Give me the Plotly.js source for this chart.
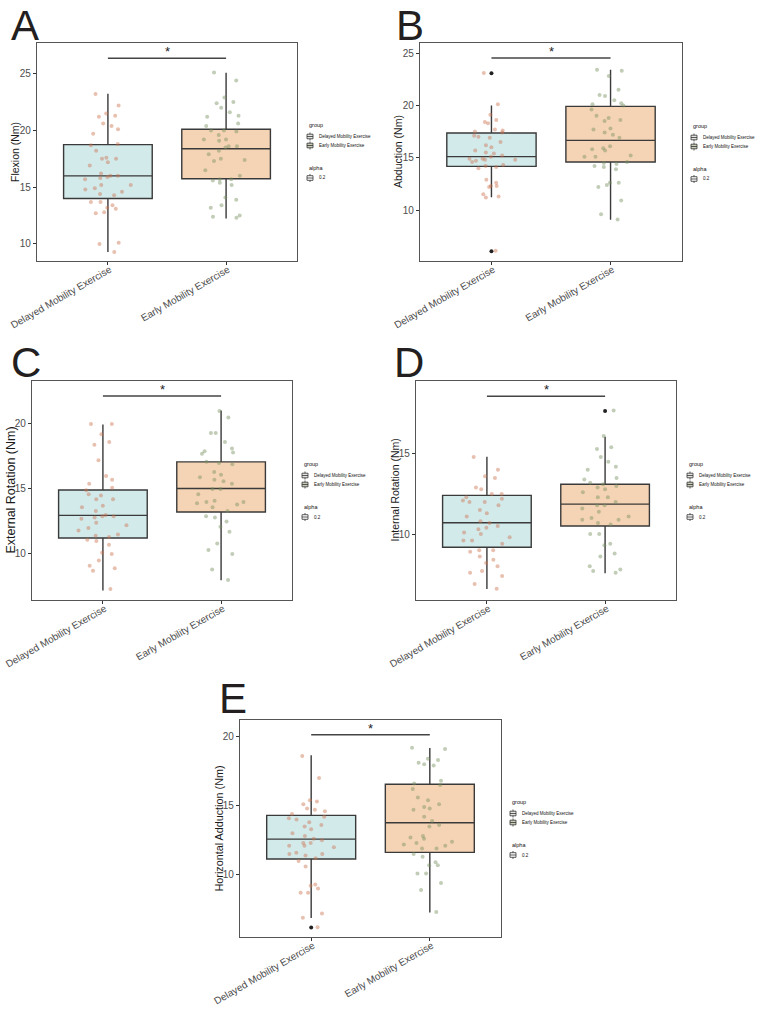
<!DOCTYPE html>
<html><head><meta charset="utf-8">
<script src="https://cdn.plot.ly/plotly-3.0.1.min.js"></script>
<style>html,body{margin:0;padding:0;background:#fff}#chart{width:762px;height:1011px}</style>
</head><body><div id="chart"></div>
<script>
// ---------- data ----------
const groups = ['Delayed Mobility Exercise', 'Early Mobility Exercise'];
const panelLetters = ['A', 'B', 'C', 'D', 'E'];
const yTitles = ['Flexion (Nm)', 'Abduction (Nm)', 'External Rotation (Nm)', 'Internal Rotation (Nm)', 'Horizontal Adduction (Nm)'];
const legendLabels = ['Delayed Mobility Exercise', 'Early Mobility Exercise'];
const alphaLabel = '0.2';

// box statistics [Delayed, Early]
const flexionQ1 = [14.0, 15.75], flexionMed = [16.0, 18.38], flexionQ3 = [18.75, 20.1], flexionLo = [9.3, 12.24], flexionHi = [23.24, 25.09];
const abductionQ1 = [14.17, 14.59], abductionMed = [15.1, 16.66], abductionQ3 = [17.36, 19.9], abductionLo = [11.21, 9.08], abductionHi = [20.0, 23.4];
const extRotQ1 = [11.23, 13.23], extRotMed = [12.97, 15.03], extRotQ3 = [14.92, 17.08], extRotLo = [7.2, 7.97], extRotHi = [19.95, 21.03];
const intRotQ1 = [9.18, 10.51], intRotMed = [10.71, 11.87], intRotQ3 = [12.41, 13.1], intRotLo = [6.59, 7.57], intRotHi = [14.81, 16.06];
const horAddQ1 = [11.14, 11.62], horAddMed = [12.58, 13.77], horAddQ3 = [14.3, 16.55], horAddLo = [6.88, 7.27], horAddHi = [18.65, 19.18];

// outliers [Delayed, Early]
const flexionOut = [[], []];
const abductionOut = [[23.06, 6.05], []];
const extRotOut = [[], []];
const intRotOut = [[], [17.67]];
const horAddOut = [[6.18], []];

// significance bracket heights
const sigHeights = [26.35, 24.52, 22.15, 18.58, 20.14];

// individual observations
const flexionDelayed = [23.2,22.2,21.5,21.3,21.2,20.6,20.4,20.1,19.7,18.8,18.7,18.2,17.6,17.5,17.5,17.2,16.9,16.2,16.0,16.0,15.9,15.8,15.7,15.2,15.2,14.9,14.8,14.6,14.4,14.3,13.7,13.7,13.4,13.2,13.1,12.8,12.7,10.1,10.0,9.3];
const flexionEarly = [25.1,24.4,22.9,22.5,22.4,22.0,21.6,21.3,21.2,20.6,20.4,20.0,20.0,19.9,19.6,19.2,19.2,19.1,18.6,18.6,18.5,18.2,17.9,17.5,17.4,17.3,16.5,16.0,15.7,15.7,15.6,15.4,15.2,14.1,13.9,13.4,13.2,12.5,12.4,12.3];
const abductionDelayed = [23.1,20.1,19.1,18.6,18.4,18.3,17.7,17.6,17.5,17.4,17.1,17.0,16.9,16.5,16.2,16.0,15.7,15.5,15.4,15.2,15.1,14.9,14.9,14.8,14.8,14.7,14.6,14.3,14.2,14.1,14.0,12.9,12.6,12.3,12.3,12.2,11.5,11.3,11.2,6.1];
const abductionEarly = [23.4,23.3,22.8,21.5,21.0,20.9,20.5,20.2,20.1,20.0,19.6,19.0,18.8,18.6,18.5,17.8,17.7,17.4,17.2,16.9,16.1,15.9,15.8,15.7,15.2,15.1,15.1,14.6,14.5,14.4,14.2,14.1,13.9,12.6,12.6,12.4,12.2,10.9,9.6,9.1];
const extRotDelayed = [20.0,20.0,19.2,18.6,18.4,17.2,16.0,15.7,15.4,15.1,14.9,14.6,14.5,14.2,14.2,13.7,13.6,13.3,13.0,12.9,12.9,12.8,12.7,12.4,12.2,12.0,11.8,11.5,11.4,11.3,11.1,11.0,10.7,10.1,10.0,9.5,9.1,8.9,8.7,7.3];
const extRotEarly = [21.0,20.5,19.3,19.3,18.6,18.1,17.9,17.8,17.7,17.1,17.0,16.9,16.3,16.1,15.9,15.7,15.6,15.4,15.0,15.0,14.6,14.1,14.0,14.0,13.9,13.8,13.6,13.3,12.9,12.8,12.5,12.1,11.7,10.8,10.3,10.0,8.8,8.0];
const intRotDelayed = [14.8,14.0,13.6,13.5,12.9,12.8,12.5,12.5,12.3,12.2,12.1,12.0,12.0,11.8,11.5,11.3,11.1,10.8,10.7,10.5,10.4,10.3,10.1,10.0,9.8,9.6,9.6,9.4,9.0,9.0,8.9,8.6,8.4,8.2,8.0,7.7,7.6,7.4,6.9,6.6];
const intRotEarly = [17.7,16.1,15.4,15.3,14.8,14.5,14.2,14.0,13.5,13.4,13.2,13.1,13.0,12.9,12.8,12.6,12.3,12.3,12.0,11.8,11.8,11.6,11.4,11.1,11.0,10.9,10.9,10.7,10.6,10.0,10.0,9.4,9.3,8.8,8.6,8.0,7.8,7.7,7.6];
const horAddDelayed = [18.6,17.0,15.4,15.3,15.1,14.8,14.7,14.6,14.4,14.2,14.1,14.0,13.8,13.6,13.5,13.3,13.0,12.8,12.6,12.5,12.3,12.3,12.1,12.1,12.0,11.6,11.5,11.5,11.4,11.2,11.0,10.6,9.3,9.2,9.0,8.7,8.7,7.2,6.9,6.2];
const horAddEarly = [19.2,19.1,18.4,18.3,18.1,18.0,17.9,16.8,16.6,16.5,16.2,15.6,15.4,15.1,14.9,14.8,14.7,14.2,13.9,13.6,13.5,12.8,12.7,12.6,12.4,12.3,12.2,12.1,11.9,11.9,11.5,11.3,10.9,10.7,10.7,10.1,10.1,9.4,8.9,7.3];

// ---------- assembly ----------
const W = 762, H = 1011;
const panels = [
  {q1: flexionQ1, med: flexionMed, q3: flexionQ3, lo: flexionLo, hi: flexionHi, pts: [flexionDelayed, flexionEarly], out: flexionOut,
   box: [37, 297, 43, 261], range: [8.5, 27.7], letter: [9, 0], ytx: 15, ytSize: 10.5, leg: [307, 125]},
  {q1: abductionQ1, med: abductionMed, q3: abductionQ3, lo: abductionLo, hi: abductionHi, pts: [abductionDelayed, abductionEarly], out: abductionOut,
   box: [420, 682, 43, 261], range: [5.13, 25.96], letter: [394, 0], ytx: 398, ytSize: 10.5, leg: [691, 126]},
  {q1: extRotQ1, med: extRotMed, q3: extRotQ3, lo: extRotLo, hi: extRotHi, pts: [extRotDelayed, extRotEarly], out: extRotOut,
   box: [32, 292, 381, 600], range: [6.46, 23.3], letter: [9, 337], ytx: 10, ytSize: 12.5, leg: [302, 464]},
  {q1: intRotQ1, med: intRotMed, q3: intRotQ3, lo: intRotLo, hi: intRotHi, pts: [intRotDelayed, intRotEarly], out: intRotOut,
   box: [416, 676, 381, 600], range: [5.9, 19.53], letter: [392, 337], ytx: 394, ytSize: 10.5, leg: [687, 464]},
  {q1: horAddQ1, med: horAddMed, q3: horAddQ3, lo: horAddLo, hi: horAddHi, pts: [horAddDelayed, horAddEarly], out: horAddOut,
   box: [240, 501, 720, 937], range: [5.5, 21.2], letter: [217, 673], ytx: 218, ytSize: 10.8, leg: [510, 802]}
];

const boxFill = ['#d3eaeb', '#f5d4b5'];
const ptColor = ['rgba(205,115,80,0.45)', 'rgba(120,145,95,0.45)'];
const FONT = 'Liberation Sans, Arial, sans-serif';
const px = v => v / W, py = v => 1 - v / H;

const traces = [], shapes = [], annotations = [];
const layout = {
  width: W, height: H, margin: {l: 0, r: 0, t: 0, b: 0},
  paper_bgcolor: '#fff', plot_bgcolor: '#fff', showlegend: false, boxmode: 'overlay',
  font: {family: FONT}
};

panels.forEach((p, i) => {
  const n = i === 0 ? '' : String(i + 1);
  const xa = 'x' + n, ya = 'y' + n;
  layout['xaxis' + n] = {
    domain: [px(p.box[0]), px(p.box[1])], anchor: ya, type: 'category',
    categoryorder: 'array', categoryarray: groups, range: [-0.6, 1.6],
    showline: true, mirror: true, linecolor: '#555', linewidth: 1.2,
    ticks: 'outside', ticklen: 3, tickcolor: '#333', tickwidth: 1,
    tickangle: -30, ticklabelstandoff: -5, ticklabelshift: 2,
    tickfont: {size: 10, color: '#4d4d4d', family: FONT},
    showgrid: false, zeroline: false, fixedrange: true
  };
  layout['yaxis' + n] = {
    domain: [py(p.box[3]), py(p.box[2])], anchor: xa, range: p.range, dtick: 5,
    showline: true, mirror: true, linecolor: '#555', linewidth: 1.2,
    ticks: 'outside', ticklen: 3, tickcolor: '#333', tickwidth: 1,
    tickfont: {size: 10, color: '#4d4d4d', family: FONT},
    showgrid: false, zeroline: false, fixedrange: true
  };
  groups.forEach((g, k) => {
    traces.push({
      type: 'box', xaxis: xa, yaxis: ya, x: [g],
      q1: [p.q1[k]], median: [p.med[k]], q3: [p.q3[k]], lowerfence: [p.lo[k]], upperfence: [p.hi[k]],
      width: 0.75, whiskerwidth: 0, boxpoints: false,
      fillcolor: boxFill[k], line: {color: '#3a3a3a', width: 1.4}, hoverinfo: 'skip'
    });
    traces.push({
      type: 'box', xaxis: xa, yaxis: ya, y: p.pts[k], x0: g, name: g,
      width: 0.75, boxpoints: 'all', jitter: 0.6, pointpos: 0,
      fillcolor: 'rgba(0,0,0,0)', line: {color: 'rgba(0,0,0,0)', width: 0},
      marker: {color: ptColor[k], size: 4, line: {width: 0}}, hoverinfo: 'y'
    });
    if (p.out[k].length) {
      traces.push({
        type: 'scatter', mode: 'markers', xaxis: xa, yaxis: ya,
        x: p.out[k].map(() => g), y: p.out[k],
        marker: {color: '#222', size: 4}, hoverinfo: 'y'
      });
    }
  });
  // significance bracket
  shapes.push({type: 'line', xref: xa, yref: ya, x0: 0, x1: 1, y0: sigHeights[i], y1: sigHeights[i],
               line: {color: '#444', width: 1.5}});
  annotations.push({xref: xa, yref: ya, x: 0.5, y: sigHeights[i], text: '*', showarrow: false,
                    yanchor: 'bottom', yshift: -3, font: {size: 13, color: '#222', family: FONT}});
  // panel letter
  annotations.push({xref: 'paper', yref: 'paper', x: px(p.letter[0]), y: py(p.letter[1]), text: panelLetters[i],
                    showarrow: false, xanchor: 'left', yanchor: 'top',
                    font: {size: 42, color: '#231f20', family: FONT}});
  // y title
  annotations.push({xref: 'paper', yref: 'paper', x: px(p.ytx), y: py((p.box[2] + p.box[3]) / 2), text: yTitles[i],
                    showarrow: false, textangle: -90, xanchor: 'center', yanchor: 'middle',
                    font: {size: p.ytSize, color: '#1a1a1a', family: FONT}});
  // legend
  const lx = p.leg[0], ly = p.leg[1];
  const txt = (t, x, y, s) => annotations.push({xref: 'paper', yref: 'paper', x: px(x), y: py(y), text: t,
      showarrow: false, xanchor: 'left', yanchor: 'middle', font: {size: s, color: '#111', family: FONT}});
  const icon = (y, fill) => {
    shapes.push({type: 'rect', xref: 'paper', yref: 'paper', x0: px(lx), x1: px(lx + 6), y0: py(y - 2.3), y1: py(y + 2.3),
                 fillcolor: fill, line: {color: '#333', width: 0.8}});
    shapes.push({type: 'line', xref: 'paper', yref: 'paper', x0: px(lx), x1: px(lx + 6), y0: py(y), y1: py(y),
                 line: {color: '#333', width: 0.8}});
    shapes.push({type: 'line', xref: 'paper', yref: 'paper', x0: px(lx + 3), x1: px(lx + 3), y0: py(y - 4), y1: py(y - 2.3),
                 line: {color: '#333', width: 0.8}});
    shapes.push({type: 'line', xref: 'paper', yref: 'paper', x0: px(lx + 3), x1: px(lx + 3), y0: py(y + 2.3), y1: py(y + 4),
                 line: {color: '#333', width: 0.8}});
  };
  txt('group', lx, ly, 5.5);
  icon(ly + 11.5, '#e3e6e0'); txt(legendLabels[0], lx + 10, ly + 11.5, 4.5);
  icon(ly + 20.5, '#c9ccb6'); txt(legendLabels[1], lx + 10, ly + 20.5, 4.5);
  txt('alpha', lx, ly + 43, 5.5);
  icon(ly + 53, '#ffffff'); txt(alphaLabel, lx + 10, ly + 53, 4.5);
});

layout.shapes = shapes;
layout.annotations = annotations;
Plotly.newPlot('chart', traces, layout, {displayModeBar: false, staticPlot: true});
</script>
</body></html>
